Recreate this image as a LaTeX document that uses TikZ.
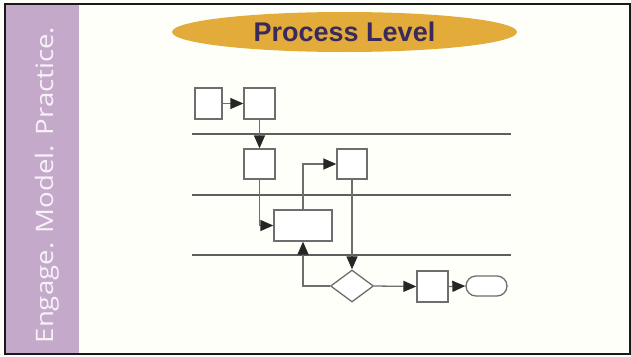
\documentclass[tikz,border=0pt]{standalone}
\usepackage{graphicx}
\usepackage{fontspec}
\setmainfont{Liberation Sans}
\newfontfamily\sidefont{Open Sans}
\usetikzlibrary{arrows.meta,shapes.geometric}
\definecolor{sidebar}{HTML}{C4A9CB}
\definecolor{sidetext}{HTML}{F7F2F8}
\definecolor{gold}{HTML}{E3AC3A}
\definecolor{titletext}{HTML}{3A2A5C}
\definecolor{flow}{HTML}{6E6E6E}
\definecolor{lane}{HTML}{5E5E5E}
\begin{document}
\begin{tikzpicture}[x=1pt,y=-1pt,
  box/.style={draw=flow,line width=1.3pt,fill=white,inner sep=0pt,minimum width=31pt,minimum height=31pt},
  conn/.style={draw=flow,line width=1.3pt,-{Triangle[length=13pt,width=11pt,color=black!85]}},
  laneline/.style={draw=lane,line width=1.4pt}]
\useasboundingbox (0,0) rectangle (631,356);
\fill[white!98!yellow] (0,0) rectangle (631,356);
% sidebar
\fill[sidebar] (6,5) rectangle (79,353);
\node[rotate=90,anchor=base,text=sidetext,inner sep=0pt,font=\sidefont\fontsize{24}{24}\selectfont] (side) at (53,185) {\scalebox{1.15}[1]{Engage. Model. Practice.}};
% frame
\draw[line width=2pt,black!90] (5,4) rectangle (630,354);
% title
\node[ellipse,fill=gold,minimum width=345pt,minimum height=40pt,inner sep=0pt,text=titletext,font=\bfseries\fontsize{27}{27}\selectfont] (title) at (344.5,32) {Process Level};
% lanes
\coordinate (l1a) at (192,134); \coordinate (l1b) at (511,134);
\coordinate (l2a) at (192,195); \coordinate (l2b) at (511,195);
\coordinate (l3a) at (192,255); \coordinate (l3b) at (511,255);
\draw[laneline] (l1a) -- (l1b);
\draw[laneline] (l2a) -- (l2b);
\draw[laneline] (l3a) -- (l3b);
% nodes
\node[box,minimum width=27pt] (b1) at (208.5,103.5) {};
\node[box] (b2) at (259.5,103.5) {};
\node[box,minimum height=30pt] (b3) at (259.5,164) {};
\node[box,minimum width=30pt,minimum height=30pt] (b4) at (352,164) {};
\node[box,minimum width=58pt] (b5) at (303,225.5) {};
\node[diamond,draw=flow,line width=1.3pt,fill=white,inner sep=0pt,minimum width=43pt,minimum height=32pt,aspect=1.35] (dia) at (352,286) {};
\node[box] (b6) at (432.5,286.5) {};
\node[draw=flow,line width=1.3pt,fill=white,rounded corners=10pt,minimum width=41pt,minimum height=20pt,inner sep=0pt] (term) at (486.5,286) {};
% connectors
\draw[conn] (b1.east) -- (b2.west);
\draw[conn] (b2.south) -- (b3.north);
\draw[conn] (b3.south) |- (b5.west);
\draw[conn] (b5.north) |- (b4.west);
\draw[conn] (b4.south) -- (dia.north);
\draw[conn] (dia.west) -| (b5.south);
\draw[conn] (dia.east) -- (b6.west);
\draw[conn] (b6.east) -- (term.west);
\end{tikzpicture}
\end{document}
